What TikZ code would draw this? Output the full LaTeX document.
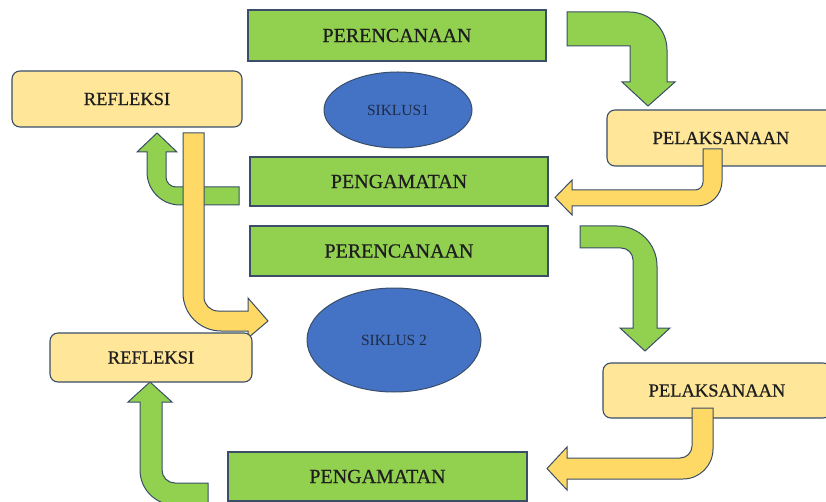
\documentclass[tikz,border=0pt]{standalone}
\usepackage{fontspec}
\setmainfont{Liberation Serif}
\newfontface\boxfont{Liberation Serif}[FakeBold=0.6]
\usetikzlibrary{shapes.geometric}
\definecolor{grn}{HTML}{92D050}
\definecolor{ylbox}{HTML}{FFE699}
\definecolor{ylarr}{HTML}{FFD966}
\definecolor{blu}{HTML}{4472C4}
\definecolor{edge}{HTML}{3A4E68}
\definecolor{txt}{HTML}{1E1E1E}
\definecolor{stxt}{HTML}{1F2B45}
\tikzset{
  gbox/.style={draw=edge, line width=1.3pt, fill=grn, minimum width=298pt, inner sep=0pt, text=txt, font=\boxfont\fontsize{20}{20}\selectfont},
  ybox/.style={draw=edge, line width=1.1pt, fill=ylbox, rounded corners=8pt, inner sep=0pt, text=txt, font=\boxfont\fontsize{18.5}{18.5}\selectfont},
  ell/.style={ellipse, draw=edge, line width=1pt, fill=blu, inner sep=0pt, text=stxt, font=\fontsize{15.5}{15.5}\selectfont},
  garr/.style={draw=edge, line width=1pt, fill=grn, line join=miter},
  yarr/.style={draw=edge, line width=1pt, fill=ylarr, line join=miter}
}
\begin{document}
\begin{tikzpicture}[x=1pt, y=-1pt]
\useasboundingbox (0,0) rectangle (826,502);
\clip (0,0) rectangle (826,502);
% boxes
\node[gbox, minimum height=51pt] (per1) at (397,35.5) {PERENCANAAN};
\node[ybox, minimum width=230pt, minimum height=56pt] (ref1) at (127,99) {REFLEKSI};
\node[ell, minimum width=148pt, minimum height=76pt] (sik1) at (398,110) {SIKLUS1};
\node[gbox, minimum height=49pt] (pen1) at (399,181.5) {PENGAMATAN};
\node[gbox, minimum height=50pt] (per2) at (399,251) {PERENCANAAN};
\node[ell, minimum width=174pt, minimum height=104pt] (sik2) at (394,340) {SIKLUS 2};
\node[ybox, minimum width=228pt, minimum height=56pt] (pel1) at (721,138) {PELAKSANAAN};
\node[ybox, minimum width=228pt, minimum height=55pt] (pel2) at (717,390.5) {PELAKSANAAN};
\node[gbox, minimum width=299pt, minimum height=49pt] (pen2) at (377.5,476.5) {PENGAMATAN};
% arrow A: perencanaan 1 -> pelaksanaan 1
\path[garr] (567,12) -- (629,12) arc[start angle=-90, end angle=0, radius=38]
  -- (667,82) -- (675,82) -- (648,106) -- (622,82) -- (630,82) -- (630,46) -- (567,46) -- cycle;
% arrow B: pelaksanaan 1 -> pengamatan 1
\path[yarr] (703,149) -- (722,149) -- (722,181) arc[start angle=0, end angle=90, radius=25]
  -- (572,206) -- (572,215) -- (555,197.5) -- (572,180) -- (572,190) -- (695,190)
  arc[start angle=90, end angle=0, radius=8] -- cycle;
% arrow C: pengamatan 1 -> refleksi 1
\path[garr] (239,187) -- (176,187) arc[start angle=90, end angle=180, radius=10]
  -- (166,152) -- (177,152) -- (157,133) -- (137,152) -- (147,152) -- (147,172)
  arc[start angle=180, end angle=90, radius=33] -- (239,205) -- cycle;
% arrow D: refleksi 1 -> siklus 2
\path[yarr] (183,133) -- (204,133) -- (204,297) arc[start angle=180, end angle=90, radius=14]
  -- (248,311) -- (248,298) -- (268,321) -- (248,338) -- (248,331) -- (221,331)
  arc[start angle=90, end angle=180, radius=38] -- cycle;
% arrow E: perencanaan 2 -> pelaksanaan 2
\path[garr] (580,226) -- (617,226) arc[start angle=-90, end angle=0, radius=40]
  -- (657,328) -- (670,328) -- (645,351) -- (620,328) -- (633,328) -- (633,260)
  arc[start angle=0, end angle=-90, radius=12] -- (580,248) -- cycle;
% arrow F: pelaksanaan 2 -> pengamatan 2
\path[yarr] (692,408) -- (713,408) -- (713,449) arc[start angle=0, end angle=90, radius=30]
  -- (567,479) -- (567,490) -- (547,468.5) -- (567,447) -- (567,458) -- (680,458)
  arc[start angle=90, end angle=0, radius=12] -- cycle;
% arrow G: pengamatan 2 -> refleksi 2
\path[garr] (208,483) -- (175,483) arc[start angle=90, end angle=180, radius=13]
  -- (162,402) -- (172,402) -- (150,382) -- (128,402) -- (140,402) -- (140,470)
  arc[start angle=180, end angle=90, radius=35] -- (208,505) -- cycle;
% refleksi 2 on top
\node[ybox, minimum width=202pt, minimum height=49pt] (ref2) at (151,357.5) {REFLEKSI};
\end{tikzpicture}
\end{document}
